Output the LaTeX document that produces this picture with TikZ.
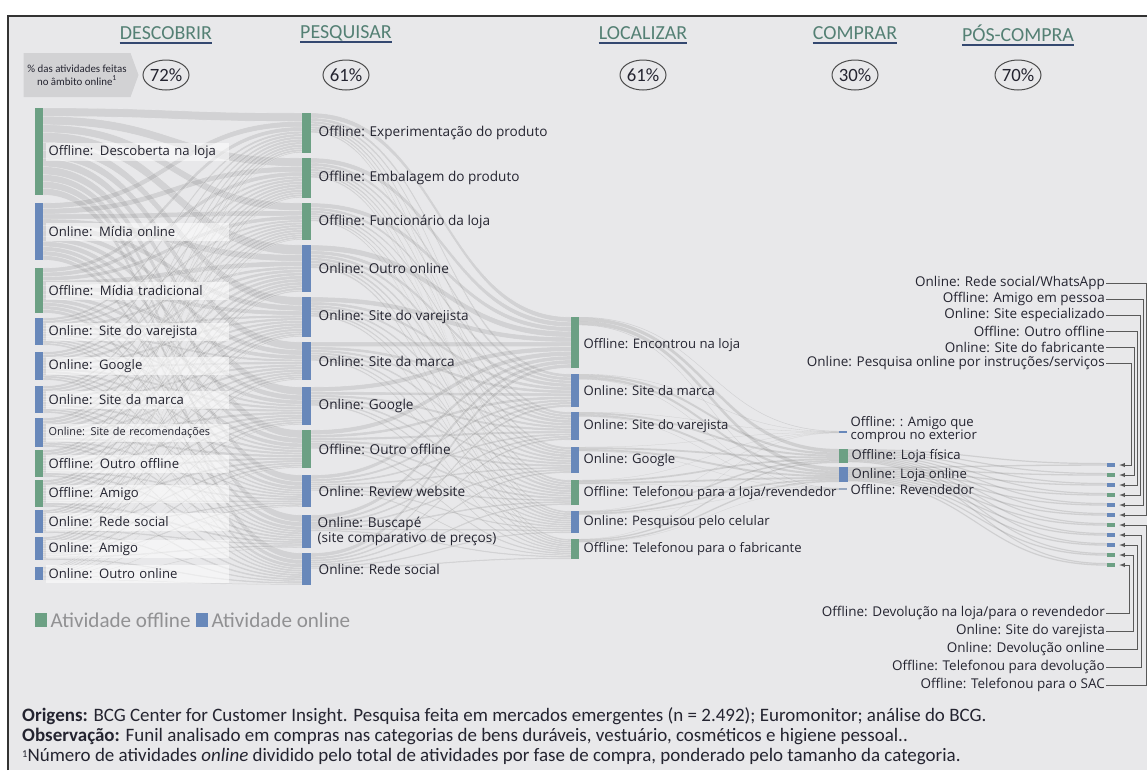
\documentclass[tikz,border=0pt]{standalone}
\usepackage{fontspec}
\setmainfont{Carlito}
\newfontfamily\labfont{Open Sans}
\usepackage{tikz}
\usetikzlibrary{positioning,shapes,arrows}

\definecolor{bgc}{RGB}{232,232,234}
\definecolor{offc}{RGB}{108,160,132}
\definecolor{onc}{RGB}{104,136,186}
\definecolor{revc}{RGB}{150,166,190}
\definecolor{hdc}{RGB}{84,128,116}
\definecolor{ulc}{RGB}{52,72,112}
\definecolor{txtc}{RGB}{36,36,48}
\definecolor{legc}{RGB}{145,145,147}
\definecolor{tagc}{RGB}{210,210,212}

\newdimen\px \px=0.03cm

\tikzstyle{bar}=[draw=none, inner sep=0, minimum width=8\px, anchor=north west]
\tikzstyle{off}=[bar, fill=offc]
\tikzstyle{on}=[bar, fill=onc]
\tikzstyle{lab}=[font=\labfont\fontsize{11.6}{13}\selectfont, text=txtc, inner sep=1\px, align=left]
\tikzstyle{lab1}=[lab, font=\labfont\fontsize{11.2}{13}\selectfont, fill=white, fill opacity=0.55, text opacity=1, minimum height=18\px, text width=177\px, inner xsep=3\px]
\tikzstyle{lab3}=[lab, font=\labfont\fontsize{11.2}{12.5}\selectfont]
\tikzstyle{rlab}=[lab, anchor=east, font=\labfont\fontsize{11.5}{13}\selectfont]
\tikzstyle{head}=[font=\fontsize{17}{17}\selectfont, text=hdc, inner sep=0]
\tikzstyle{pct}=[ellipse, draw=black!70, line width=1\px, font=\fontsize{16}{16}\selectfont, text=txtc, minimum width=46\px, minimum height=30\px, inner sep=0]
\tikzstyle{flow}=[fill=black!45, fill opacity=0.23, draw=white, draw opacity=0.5, line width=0.2pt]
\tikzstyle{thinflow}=[fill=black!50, fill opacity=0.24]
\tikzstyle{qbar}=[draw=none, inner sep=0, minimum width=8\px, minimum height=4\px]
\tikzstyle{link}=[draw=black!65, line width=0.8\px, ->]
\tikzstyle{legtxt}=[font=\fontsize{18}{18}\selectfont, text=legc, inner sep=0]
\tikzstyle{foot}=[anchor=west, text=txtc, inner sep=0, text height=10pt, text depth=3pt, font=\fontsize{16.2}{17}\selectfont]

\begin{document}
\begin{tikzpicture}[x=0.03cm,y=-0.03cm,>=latex]
\useasboundingbox (0,0) rectangle (1147,770);
\fill[white] (0,0) rectangle (1147,770);
\fill[bgc] (8,16) rectangle (1147,770);
\draw[black!80, line width=1.5\px] (8,770) -- (8,16) -- (1147,16);

% fases
\node[head] (h1) at (166,33) {DESCOBRIR};
\node[head] (h2) at (346,33) {PESQUISAR};
\node[head] (h3) at (643,33) {LOCALIZAR};
\node[head] (h4) at (855,33) {COMPRAR};
\node[head] (h5) at (1018,33) {PÓS-COMPRA};
\foreach \h in {h1,h2,h3,h4,h5}
  \draw[ulc, line width=2\px] ([yshift=-4\px]\h.base west) -- ([yshift=-4\px]\h.base east);

\node[pct, below of = h1, node distance = 42\px] (p1) {72\%};
\node[pct, below of = h2, node distance = 42\px] (p2) {61\%};
\node[pct, below of = h3, node distance = 42\px] (p3) {61\%};
\node[pct, below of = h4, node distance = 42\px] (p4) {30\%};
\node[pct, below of = h5, node distance = 42\px] (p5) {70\%};
\node[signal, signal to=east, signal pointer angle=140, fill=tagc, text=txtc, font=\fontsize{9.3}{11}\selectfont, align=center, minimum width=115\px, minimum height=44\px, inner sep=1\px] (tag) at (77,75) {\% das atividades feitas\\no âmbito online\textsuperscript{1}};

% fluxos descobrir -> pesquisar
\foreach \s/\h/\c in {108/87/0,203/57/87,268/45/144,318/27/189,352/28/216,386/27/244,418/29/271,450/27/300,480/27/327,510/23/354,537/23/377,567/13/400}{
  \foreach \t/\g/\d in {113/40/0,158/40/40,203/37/80,245/47/117,297/40/164,342/38/204,387/38/242,430/38/280,475/32/318,515/33/350,553/32/383}{
    \pgfmathsetmacro\ya{\s+\h/415*\d}
    \pgfmathsetmacro\yb{\s+\h/415*(\d+\g)}
    \pgfmathsetmacro\za{\t+\g/415*\c}
    \pgfmathsetmacro\zb{\t+\g/415*(\c+\h)}
    \path[flow] (43,\ya) .. controls (172,\ya) and (172,\za) .. (302,\za) -- (302,\zb) .. controls (172,\zb) and (172,\yb) .. (43,\yb) -- cycle;
  }
}
% pesquisar -> localizar
\foreach \t/\g/\d in {113/40/0,158/40/40,203/37/80,245/47/117,297/40/164,342/38/204,387/38/242,430/38/280,475/32/318,515/33/350,553/32/383}{
  \foreach \u/\k/\e in {317/51/0,374/33/51,412/28/84,447/26/112,480/25/138,511/22/163,539/20/185}{
    \pgfmathsetmacro\ya{\t+\g/415*\e}
    \pgfmathsetmacro\yb{\t+\g/415*(\e+\k)}
    \pgfmathsetmacro\za{\u+\k/415*\d}
    \pgfmathsetmacro\zb{\u+\k/415*(\d+\g)}
    \path[flow] (311,\ya) .. controls (441,\ya) and (441,\za) .. (571,\za) -- (571,\zb) .. controls (441,\zb) and (441,\yb) .. (311,\yb) -- cycle;
  }
}
% localizar -> comprar
\foreach \u/\k/\e in {317/51/0,374/33/51,412/28/84,447/26/112,480/25/138,511/22/163,539/20/185}{
  \foreach \v/\m/\f in {431/2/0,449/14/2,467/15/16,488/2/31}{
    \pgfmathsetmacro\ya{\u+\k/205*\f}
    \pgfmathsetmacro\yb{\u+\k/205*(\f+\m)}
    \pgfmathsetmacro\za{\v+\m/205*\e}
    \pgfmathsetmacro\zb{\v+\m/205*(\e+\k)}
    \path[thinflow] (579,\ya) .. controls (709,\ya) and (709,\za) .. (839,\za) -- (839,\zb) .. controls (709,\zb) and (709,\yb) .. (579,\yb) -- cycle;
  }
}
% comprar -> pos-compra
\foreach \i in {1,...,11}{
  \pgfmathsetmacro\ya{449+1.2*(\i-1)}
  \pgfmathsetmacro\yb{467+1.3*(\i-1)}
  \pgfmathsetmacro\za{463+10*(\i-1)}
  \path[thinflow] (848,\ya) .. controls (977,\ya) and (977,\za) .. (1107,\za) -- (1107,\za+1.2) .. controls (977,\za+1.2) and (977,\ya+1.2) .. (848,\ya+1.2) -- cycle;
  \path[thinflow] (848,\yb) .. controls (977,\yb) and (977,\za+1.4) .. (1107,\za+1.4) -- (1107,\za+2.7) .. controls (977,\za+2.7) and (977,\yb+1.3) .. (848,\yb+1.3) -- cycle;
}

% descobrir
\node[off, minimum height=87\px] (d1) at (35,108) {};
\node[lab1, right=2\px of d1] (dl1) {Offline: Descoberta na loja};
\node[on, minimum height=57\px] (d2) at (35,203) {};
\node[lab1, right=2\px of d2] (dl2) {Online: Mídia online};
\node[off, minimum height=45\px] (d3) at (35,268) {};
\node[lab1, right=2\px of d3] (dl3) {Offline: Mídia tradicional};
\node[on, minimum height=27\px] (d4) at (35,318) {};
\node[lab1, right=2\px of d4] (dl4) {Online: Site do varejista};
\node[on, minimum height=28\px] (d5) at (35,352) {};
\node[lab1, right=2\px of d5] (dl5) {Online: Google};
\node[on, minimum height=27\px] (d6) at (35,386) {};
\node[lab1, right=2\px of d6] (dl6) {Online: Site da marca};
\node[on, minimum height=29\px] (d7) at (35,418) {};
\node[lab1, right=2\px of d7, font=\labfont\fontsize{9.3}{10}\selectfont] (dl7) {Online: Site de recomendações};
\node[off, minimum height=27\px] (d8) at (35,450) {};
\node[lab1, right=2\px of d8] (dl8) {Offline: Outro offline};
\node[off, minimum height=27\px] (d9) at (35,480) {};
\node[lab1, right=2\px of d9] (dl9) {Offline: Amigo};
\node[on, minimum height=23\px] (d10) at (35,510) {};
\node[lab1, right=2\px of d10] (dl10) {Online: Rede social};
\node[on, minimum height=23\px] (d11) at (35,537) {};
\node[lab1, right=2\px of d11] (dl11) {Online: Amigo};
\node[on, minimum height=13\px] (d12) at (35,567) {};
\node[lab1, right=2\px of d12] (dl12) {Online: Outro online};

% pesquisar
\node[off, minimum width=9\px, minimum height=40\px] (s1) at (302,113) {};
\node[lab, right=6\px of s1] (sl1) {Offline: Experimentação do produto};
\node[off, minimum width=9\px, minimum height=40\px] (s2) at (302,158) {};
\node[lab, right=6\px of s2] (sl2) {Offline: Embalagem do produto};
\node[off, minimum width=9\px, minimum height=37\px] (s3) at (302,203) {};
\node[lab, right=6\px of s3] (sl3) {Offline: Funcionário da loja};
\node[on, minimum width=9\px, minimum height=47\px] (s4) at (302,245) {};
\node[lab, right=6\px of s4] (sl4) {Online: Outro online};
\node[on, minimum width=9\px, minimum height=40\px] (s5) at (302,297) {};
\node[lab, right=6\px of s5] (sl5) {Online: Site do varejista};
\node[on, minimum width=9\px, minimum height=38\px] (s6) at (302,342) {};
\node[lab, right=6\px of s6] (sl6) {Online: Site da marca};
\node[on, minimum width=9\px, minimum height=38\px] (s7) at (302,387) {};
\node[lab, right=6\px of s7] (sl7) {Online: Google};
\node[off, minimum width=9\px, minimum height=38\px] (s8) at (302,430) {};
\node[lab, right=6\px of s8] (sl8) {Offline: Outro offline};
\node[on, minimum width=9\px, minimum height=32\px] (s9) at (302,475) {};
\node[lab, right=6\px of s9] (sl9) {Online: Review website};
\node[on, minimum width=9\px, minimum height=33\px] (s10) at (302,515) {};
\node[lab, right=5\px of s10, font=\labfont\fontsize{11.6}{11.5}\selectfont] (sl10) {Online: Buscapé\\(site comparativo de preços)};
\node[on, minimum width=9\px, minimum height=32\px] (s11) at (302,553) {};
\node[lab, right=6\px of s11] (sl11) {Online: Rede social};

% localizar
\node[off, minimum height=51\px] (l1) at (571,317) {};
\node[lab3, right=3\px of l1, yshift=-2\px] (ll1) {Offline: Encontrou na loja};
\node[on, minimum height=33\px] (l2) at (571,374) {};
\node[lab3, right=3\px of l2] (ll2) {Online: Site da marca};
\node[on, minimum height=28\px] (l3) at (571,412) {};
\node[lab3, right=3\px of l3] (ll3) {Online: Site do varejista};
\node[on, minimum height=26\px] (l4) at (571,447) {};
\node[lab3, right=3\px of l4] (ll4) {Online: Google};
\node[off, minimum height=25\px] (l5) at (571,480) {};
\node[lab3, right=3\px of l5] (ll5) {Offline: Telefonou para a loja/revendedor};
\node[on, minimum height=22\px] (l6) at (571,511) {};
\node[lab3, right=3\px of l6] (ll6) {Online: Pesquisou pelo celular};
\node[off, minimum height=20\px] (l7) at (571,539) {};
\node[lab3, right=3\px of l7] (ll7) {Offline: Telefonou para o fabricante};

% comprar
\node[on, minimum height=2\px] (c1) at (839,431) {};
\node[lab3, right=2\px of c1, yshift=3\px, font=\labfont\fontsize{11.2}{11}\selectfont] (cl1) {Offline: : Amigo que\\comprou no exterior};
\node[off, minimum width=9\px, minimum height=14\px] (c2) at (839,449) {};
\node[lab3, right=2\px of c2] (cl2) {Offline: Loja física};
\node[on, minimum width=9\px, minimum height=15\px] (c3) at (839,467) {};
\node[lab3, right=2\px of c3] (cl3) {Online: Loja online};
\node[bar, fill=revc, minimum height=2\px] (c4) at (839,488) {};
\node[lab3, right=2\px of c4] (cl4) {Offline: Revendedor};

% pos-compra
\node[qbar, fill=onc] (q1) at (1111,465) {};
\node[qbar, fill=offc] (q2) at (1111,475) {};
\node[qbar, fill=onc] (q3) at (1111,485) {};
\node[qbar, fill=offc] (q4) at (1111,495) {};
\node[qbar, fill=onc] (q5) at (1111,505) {};
\node[qbar, fill=onc] (q6) at (1111,515) {};
\node[qbar, fill=offc] (q7) at (1111,525) {};
\node[qbar, fill=onc] (q8) at (1111,535) {};
\node[qbar, fill=onc] (q9) at (1111,545) {};
\node[qbar, fill=offc] (q10) at (1111,555) {};
\node[qbar, fill=offc] (q11) at (1111,565) {};

\node[rlab] (r1) at (1106,283) {Online: Rede social/WhatsApp};
\node[rlab] (r2) at (1106,299) {Offline: Amigo em pessoa};
\node[rlab] (r3) at (1106,315) {Online: Site especializado};
\node[rlab] (r4) at (1106,331) {Offline: Outro offline};
\node[rlab] (r5) at (1106,347) {Online: Site do fabricante};
\node[rlab] (r6) at (1106,363) {Online: Pesquisa online por instruções/serviços};
\node[rlab] (b1) at (1106,613) {Offline: Devolução na loja/para o revendedor};
\node[rlab] (b2) at (1106,631) {Online: Site do varejista};
\node[rlab] (b3) at (1106,649) {Online: Devolução online};
\node[rlab] (b4) at (1106,667) {Offline: Telefonou para devolução};
\node[rlab] (b5) at (1106,685) {Offline: Telefonou para o SAC};

\foreach \a/\b/\d in {r1/q6/40,r2/q5/37,r3/q4/34,r4/q3/31,r5/q2/28,r6/q1/25,b1/q11/23,b2/q10/27,b3/q9/31,b4/q8/35,b5/q7/40}
  \draw[link] (\a.east) -- ++(\d,0) |- ([xshift=4\px]\b.east);

% legenda
\node[bar, fill=offc, minimum width=12\px, minimum height=14\px] (lg1) at (35,613) {};
\node[legtxt, right=3\px of lg1] (lt1) {Atividade offline};
\node[bar, fill=onc, minimum width=12\px, minimum height=14\px, right=5\px of lt1] (lg2) {};
\node[legtxt, right=3\px of lg2] (lt2) {Atividade online};

% notas
\node[foot] (f1) at (22,717) {\textbf{Origens:} BCG Center for Customer Insight. Pesquisa feita em mercados emergentes (n = 2.492); Euromonitor; análise do BCG.};
\node[foot] (f2) at (22,737) {\textbf{Observação:} Funil analisado em compras nas categorias de bens duráveis, vestuário, cosméticos e higiene pessoal..};
\node[foot] (f3) at (22,757) {\raisebox{3.5pt}{\fontsize{9}{9}\selectfont 1}Número de atividades \textit{online} dividido pelo total de atividades por fase de compra, ponderado pelo tamanho da categoria.};
\end{tikzpicture}
\end{document}
